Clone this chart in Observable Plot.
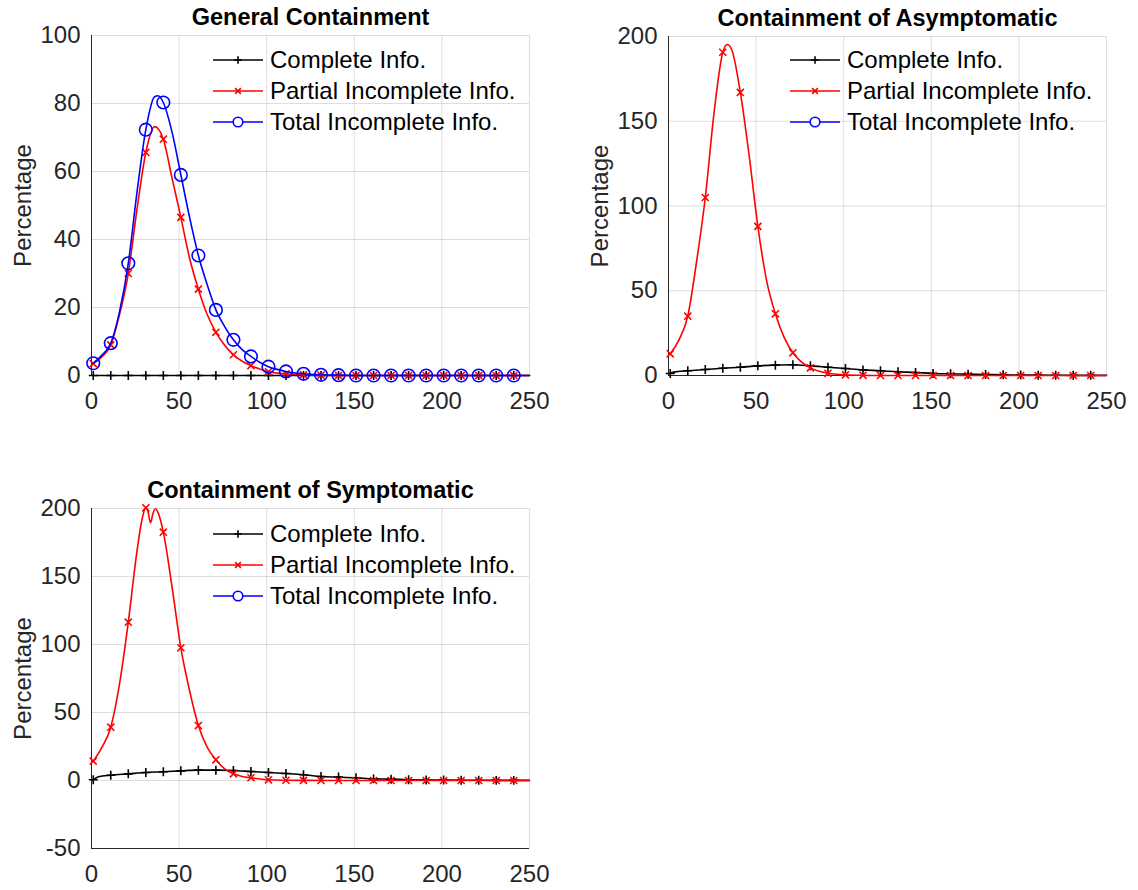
<!DOCTYPE html>
<html><head><meta charset="utf-8">
<script src="https://cdn.jsdelivr.net/npm/d3@7"></script>
<script src="https://cdn.jsdelivr.net/npm/@observablehq/plot@0.6"></script>
<style>
body{margin:0;background:#fff;font-family:"Liberation Sans",Arial,Helvetica,sans-serif;}
#root{position:relative;width:1138px;height:890px;overflow:hidden;background:#fff;}
.panel{position:absolute;}
.legend{position:absolute;font-size:24px;color:#000;line-height:1;}
.legend .row{display:flex;align-items:center;height:31px;}
.legend svg{margin-right:7px;overflow:visible;}
</style></head><body><div id="root"></div>
<script>
// ---------------- data ----------------
const xTicks = [0, 50, 100, 150, 200, 250];
const yTicks1 = [0, 20, 40, 60, 80, 100];
const yTicks2 = [0, 50, 100, 150, 200];
const yTicks3 = [-50, 0, 50, 100, 150, 200];
const seriesNames = ["Complete Info.", "Partial Incomplete Info.", "Total Incomplete Info."];
const titles = ["General Containment", "Containment of Asymptomatic", "Containment of Symptomatic"];

// General Containment
const complete1 = [[1,0],[11,0],[21,0],[31,0],[41,0],[51,0],[61,0],[71,0],[81,0],[91,0],[101,0],[111,0],[121,0],[131,0],[141,0],[151,0],[161,0],[171,0],[181,0],[191,0],[201,0],[211,0],[221,0],[231,0],[241,0],[250,0]];
const partial1 = [[1,3.5],[6,5.5],[11,9],[16,17.9],[21,30],[26,49],[31,65.6],[36,73.2],[41,69.5],[46,58],[51,46.5],[56,34.5],[61,25.4],[66,18],[71,12.7],[76,8.9],[81,6.1],[86,4.2],[91,2.9],[96,1.9],[101,1.1],[111,0.5],[121,0.2],[131,0.1],[141,0],[151,0],[161,0],[171,0],[181,0],[191,0],[201,0],[211,0],[221,0],[231,0],[241,0],[250,0]];
const total1 = [[1,3.6],[6,6],[11,9.5],[16,18.8],[21,33],[26,54],[31,72.3],[36,82],[38,82.3],[41,80.3],[46,71.5],[51,59],[56,46.5],[61,35.3],[66,26.8],[71,19.3],[76,14.4],[81,10.5],[86,7.6],[91,5.6],[96,3.9],[101,2.6],[106,1.8],[111,1.2],[121,0.5],[131,0.2],[141,0.1],[151,0],[161,0],[171,0],[181,0],[191,0],[201,0],[211,0],[221,0],[231,0],[241,0],[250,0]];

// Containment of Asymptomatic
const complete2 = [[1,1.2],[3,2],[11,2.8],[21,3.5],[31,4.3],[41,4.9],[51,5.7],[61,6.1],[71,6.3],[81,5.7],[91,4.9],[101,4.1],[111,3.3],[121,2.8],[131,2.2],[141,1.8],[151,1.2],[161,1.0],[171,0.8],[181,0.6],[191,0.4],[201,0.3],[211,0.2],[221,0.15],[231,0.1],[241,0.1],[250,0.1]];
const partial2 = [[1,12.8],[6,21],[11,35],[16,67],[21,105],[26,155],[31,190.7],[33.5,195.3],[36,192.5],[41,167],[46,130],[51,88],[56,56],[61,36.4],[66,22.5],[71,13.4],[76,7.9],[81,4.5],[86,2.5],[91,1.3],[96,0.7],[101,0.4],[111,0.1],[121,0],[131,0],[141,0],[151,0],[161,0],[171,0],[181,0],[191,0],[201,0],[211,0],[221,0],[231,0],[241,0],[250,0]];

// Containment of Symptomatic
const complete3 = [[1,0.5],[4,2.8],[11,3.9],[21,4.9],[31,5.9],[41,6.4],[51,7.1],[61,7.6],[71,7.6],[81,7.4],[91,6.6],[101,5.9],[111,5.1],[121,4.2],[131,2.9],[141,2.5],[151,2.0],[161,1.2],[171,1.0],[181,0.6],[191,0.4],[201,0.3],[211,0.2],[221,0.15],[231,0.1],[241,0.1],[250,0.1]];
const partial3 = [[1,14.2],[6,24.5],[11,39.2],[16,71],[21,116.4],[26,169],[29,193],[31,200.5],[32,199],[33.7,189.5],[35,196],[36.5,199.8],[38,197],[41,182.6],[46,142],[51,97.6],[56,66],[61,40.4],[66,24.5],[71,15.2],[76,8.6],[81,4.9],[86,3],[91,2],[101,0.5],[111,0.2],[121,0.1],[131,0],[141,0],[151,0],[161,0],[171,0],[181,0],[191,0],[201,0],[211,0],[221,0],[231,0],[241,0],[250,0]];

// ---------------- styles ----------------
const styles = [
  {stroke: "#000000", symbol: "plus", r: 3.0, lr: 2.6},
  {stroke: "#ff0000", symbol: "times", r: 3.3, lr: 2.7},
  {stroke: "#0000ff", symbol: "circle", r: 6.3, lr: 4.8}
];

const panels = [
  {left: 0, top: 0, width: 560, height: 420, mt: 35, mb: 45, yDomain: [0, 100], yTicks: yTicks1, title: titles[0],
   series: [[0, complete1], [1, partial1], [2, total1]], legend: {left: 213, top: 44}},
  {left: 577, top: 0, width: 560, height: 420, mt: 36, mb: 45, yDomain: [0, 200], yTicks: yTicks2, title: titles[1],
   series: [[0, complete2], [1, partial2]], legend: {left: 790, top: 44}},
  {left: 0, top: 470, width: 560, height: 420, mt: 38, mb: 42, yDomain: [-50, 200], yTicks: yTicks3, title: titles[2],
   series: [[0, complete3], [1, partial3]], legend: {left: 213, top: 518}}
];

const root = document.getElementById("root");
const isMarker = d => Number.isInteger((d[0] - 1) / 10) && d[0] <= 241;
const fmt = d => String(d);

for (const p of panels) {
  const marks = [
    Plot.gridX(xTicks, {stroke: "#000", strokeOpacity: 0.13}),
    Plot.gridY(p.yTicks, {stroke: "#000", strokeOpacity: 0.13}),
    Plot.axisX(xTicks, {tickSize: 0, tickPadding: 16, fontSize: 24, label: null, fill: "#262626", tickFormat: fmt}),
    Plot.axisY(p.yTicks, {tickSize: 0, tickPadding: 11, fontSize: 24, label: null, fill: "#262626", tickFormat: fmt}),
    Plot.ruleX([0], {stroke: "#262626", strokeWidth: 1}),
    Plot.ruleY([p.yDomain[0]], {stroke: "#262626", strokeWidth: 1})
  ];
  for (const [si, data] of p.series) {
    const s = styles[si];
    marks.push(Plot.line(data, {x: d => d[0], y: d => d[1], stroke: s.stroke, strokeWidth: 1.6, curve: "monotone-x"}));
    marks.push(Plot.dot(data.filter(isMarker), {x: d => d[0], y: d => d[1], stroke: s.stroke, fill: "none", symbol: s.symbol, r: s.r, strokeWidth: 1.6}));
  }
  marks.push(Plot.text([p.title], {text: d => d, frameAnchor: "top", lineAnchor: "middle", dy: -18, fontSize: 23.5, fontWeight: "bold", fill: "#000"}));
  marks.push(Plot.text(["Percentage"], {text: d => d, frameAnchor: "left", textAnchor: "middle", lineAnchor: "middle", rotate: -90, dx: -68, fontSize: 24, fill: "#262626"}));

  const svg = Plot.plot({
    width: p.width, height: p.height,
    marginLeft: 91, marginRight: 31, marginTop: p.mt, marginBottom: p.mb,
    x: {domain: [0, 250]},
    y: {domain: p.yDomain},
    style: {fontFamily: '"Liberation Sans", Arial, Helvetica, sans-serif', fontSize: "24px", color: "#262626", background: "transparent", overflow: "visible"},
    marks
  });
  const wrap = document.createElement("div");
  wrap.className = "panel";
  wrap.style.left = p.left + "px";
  wrap.style.top = p.top + "px";
  wrap.appendChild(svg);
  root.appendChild(wrap);

  // legend (no box, inside axes)
  const lg = document.createElement("div");
  lg.className = "legend";
  lg.style.left = p.legend.left + "px";
  lg.style.top = p.legend.top + "px";
  styles.forEach((s, i) => {
    const row = document.createElement("div");
    row.className = "row";
    const sv = d3.create("svg").attr("width", 50).attr("height", 20);
    sv.append("line").attr("x1", 0).attr("x2", 50).attr("y1", 10).attr("y2", 10).attr("stroke", s.stroke).attr("stroke-width", 1.6);
    const sym = {plus: d3.symbolPlus, times: d3.symbolTimes, circle: d3.symbolCircle}[s.symbol];
    sv.append("path").attr("transform", "translate(25,10)")
      .attr("d", d3.symbol(sym, s.lr * s.lr * Math.PI)())
      .attr("fill", s.symbol === "circle" ? "#fff" : "none")
      .attr("stroke", s.stroke).attr("stroke-width", 1.6);
    row.appendChild(sv.node());
    const t = document.createElement("span");
    t.textContent = seriesNames[i];
    row.appendChild(t);
    lg.appendChild(row);
  });
  root.appendChild(lg);
}
</script>
</body></html>
